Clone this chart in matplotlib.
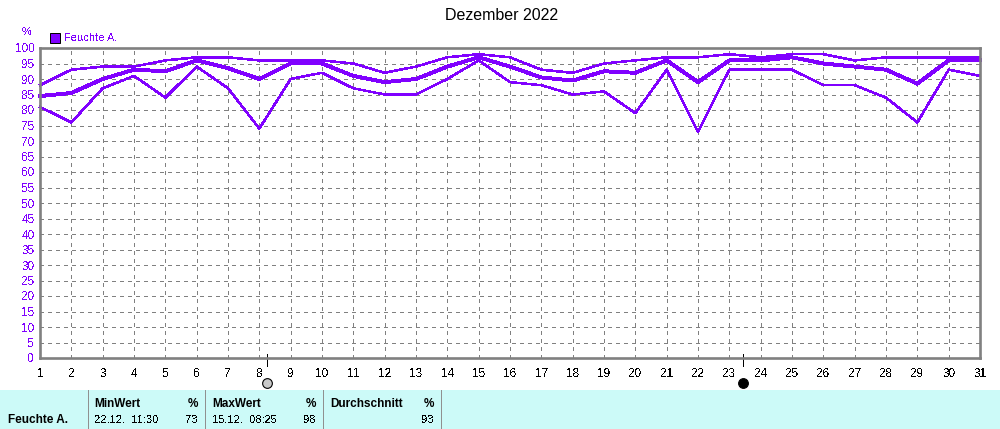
import numpy as np
from matplotlib import pyplot as plt
from matplotlib.patches import Rectangle

plt.rcParams['font.family'] = ['Liberation Sans', 'DejaVu Sans']
plt.rcParams['text.antialiased'] = False

days = list(range(1, 32))
feuchte_max = [88, 93, 94, 94, 96, 97, 97, 96, 96, 96, 95, 92, 94, 97, 98, 97,
               93, 92, 95, 96, 97, 97, 98, 97, 98, 98, 96, 97, 97, 97, 97]
feuchte_mean = [84.5, 85.5, 90, 93, 92.5, 96, 93.5, 90, 95, 95, 91, 89, 90, 94, 97, 94,
                90.5, 89.5, 92.5, 92, 96, 89, 96, 96, 97, 95, 94, 93, 88.5, 96, 96]
feuchte_min = [81, 76, 87, 91, 84, 94, 87, 74, 90, 92, 87, 85, 85, 90, 96, 89,
               88, 85, 86, 79, 93, 73, 93, 93, 93, 88, 88, 84, 76, 93, 91]
y_ticks = list(range(0, 101, 5))
full_moon = 8.25
new_moon = 23.45

PURPLE = '#8000ff'
GREY = '#808080'
W, H = 1000, 429


def px_x(x):
    return x / W


def px_y(y):
    return 1 - y / H


fig = plt.figure(figsize=(10, 4.29), dpi=100)
ax = fig.add_axes([px_x(40), px_y(358), 940 / W, 310 / H])
ax.set_xlim(1, 31)
ax.set_ylim(0, 100)
ax.set_xticks(days)
ax.set_yticks(y_ticks)
ax.tick_params(length=0)
ax.tick_params(axis='x', labelsize=8.5, pad=7, colors='black')
ax.tick_params(axis='y', labelsize=8.5, pad=4, labelcolor=PURPLE)
ax.grid(True, color=GREY, lw=0.72, dashes=(4, 5), dash_capstyle='butt', antialiased=False)
ax.set_axisbelow(True)
for s in ax.spines.values():
    s.set_color(GREY)
    s.set_linewidth(1.9)

ax.plot(days, feuchte_max, color=PURPLE, lw=1.1, antialiased=False, clip_on=False)
ax.plot(days, feuchte_mean, color=PURPLE, lw=2.1, antialiased=False, clip_on=False)
ax.plot(days, feuchte_min, color=PURPLE, lw=1.1, antialiased=False, clip_on=False)

# Mondphasen unter der Achse
trans = ax.get_xaxis_transform()
for day, face in [(full_moon, '#c8c8c8'), (new_moon, 'black')]:
    ax.plot([day, day], [-8 / 310, 4 / 310], color='black', lw=0.72, transform=trans,
            clip_on=False, antialiased=False)
    ax.plot([day], [-25 / 310], 'o', ms=7, mfc=face, mec='black', mew=0.8,
            transform=trans, clip_on=False)

fig.text(px_x(502), px_y(16), 'Dezember 2022', ha='center', va='center', fontsize=11.5,
         antialiased=True)
fig.text(px_x(27), px_y(32), '%', ha='center', va='center', fontsize=8, color=PURPLE)
fig.add_artist(Rectangle((px_x(50), px_y(43)), 10 / W, 10 / H, transform=fig.transFigure,
                         fc=PURPLE, ec='black', lw=0.72))
fig.text(px_x(64), px_y(38), 'Feuchte A.', ha='left', va='center', fontsize=8, color=PURPLE)

# Tabelle unten
fig.add_artist(Rectangle((0, 0), 1, 39 / H, transform=fig.transFigure, fc='#ccfaf8', ec='none'))
for x in [88, 205, 323, 441]:
    fig.add_artist(plt.Line2D([px_x(x), px_x(x)], [0, 39 / H], color='#909090', lw=0.72,
                              antialiased=False))


def cell(x, y, txt, ha='left', bold=False):
    fig.text(px_x(x), px_y(y), txt, ha=ha, va='center', fontsize=8.5 if bold else 8,
             fontweight='bold' if bold else 'normal', antialiased=bold)


cell(8, 420, 'Feuchte A.', bold=True)
cell(94, 404, 'MinWert', bold=True)
cell(198, 404, '%', ha='right', bold=True)
cell(94, 420, '22.12.  11:30')
cell(198, 420, '73', ha='right')
cell(212, 404, 'MaxWert', bold=True)
cell(316, 404, '%', ha='right', bold=True)
cell(212, 420, '15.12.  08:25')
cell(316, 420, '98', ha='right')
cell(330, 404, 'Durchschnitt', bold=True)
cell(434, 404, '%', ha='right', bold=True)
cell(434, 420, '93', ha='right')

fig.savefig('out.png', dpi=100)
